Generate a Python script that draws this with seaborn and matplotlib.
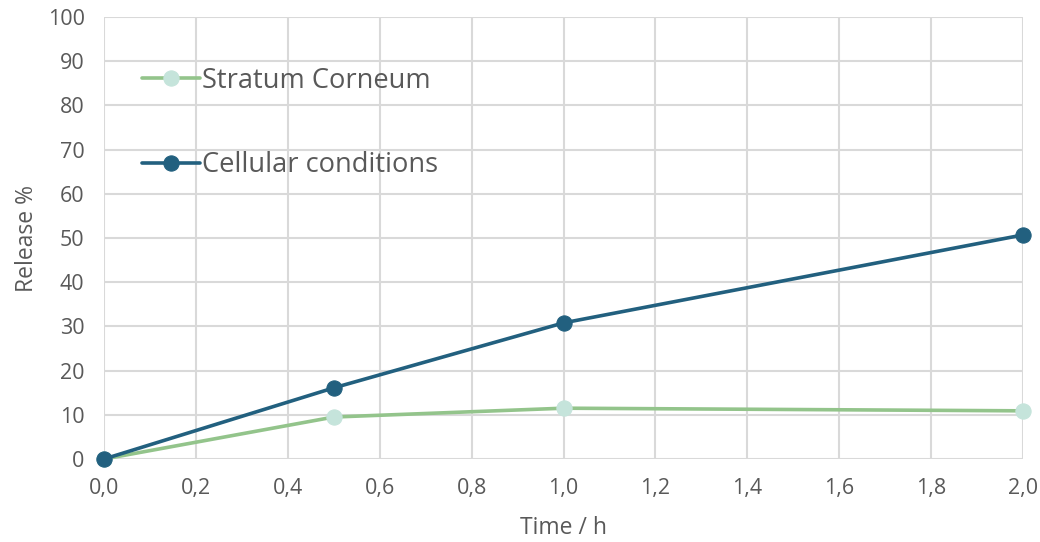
import matplotlib
matplotlib.use("Agg")
import matplotlib.pyplot as plt
import seaborn as sns
import pandas as pd

time_h = [0.0, 0.5, 1.0, 2.0]
stratum_corneum = [0.0, 9.5, 11.5, 10.9]
cellular_conditions = [0.0, 16.1, 30.8, 50.7]
series_names = ["Stratum Corneum", "Cellular conditions"]
x_ticks = [0.0, 0.2, 0.4, 0.6, 0.8, 1.0, 1.2, 1.4, 1.6, 1.8, 2.0]
x_tick_labels = ["0,0", "0,2", "0,4", "0,6", "0,8", "1,0", "1,2", "1,4", "1,6", "1,8", "2,0"]
y_ticks = [0, 10, 20, 30, 40, 50, 60, 70, 80, 90, 100]

sns.set_theme(style="white")
plt.rcParams["font.family"] = ["Open Sans", "DejaVu Sans"]

df = pd.DataFrame({
    "Time": time_h * 2,
    "Release": stratum_corneum + cellular_conditions,
    "Series": [series_names[0]] * len(time_h) + [series_names[1]] * len(time_h),
})

fig = plt.figure(figsize=(10.4, 5.42), dpi=100)
ax = fig.add_axes([0.1, 0.1531, 0.8837, 0.8155])

line_colors = {series_names[0]: "#93C48B", series_names[1]: "#22607F"}
marker_colors = {series_names[0]: "#C5E4DB", series_names[1]: "#22607F"}

for name in series_names:
    sub = df[df["Series"] == name]
    sns.lineplot(data=sub, x="Time", y="Release", ax=ax, color=line_colors[name],
                 linewidth=2.6, marker="o", markersize=11,
                 markerfacecolor=marker_colors[name], markeredgecolor=marker_colors[name],
                 label=name, zorder=3, clip_on=False)

ax.set_xlim(0, 2.0)
ax.set_ylim(0, 100)
ax.set_xticks(x_ticks)
ax.set_xticklabels(x_tick_labels)
ax.set_yticks(y_ticks)
ax.grid(True, color="#D9D9D9", linewidth=1.5)
ax.set_axisbelow(True)
for s in ax.spines.values():
    s.set_visible(False)
ax.tick_params(axis="x", labelsize=15.5, colors="#595959", length=0, pad=14)
ax.tick_params(axis="y", labelsize=15.5, colors="#595959", length=0, pad=14)
ax.set_xlabel("Time / h", fontsize=16.5, color="#595959", labelpad=12)
ax.set_ylabel("Release %", fontsize=16.5, color="#595959", labelpad=6)

leg = ax.legend(loc="upper left", bbox_to_anchor=(0.03, 0.912), frameon=False,
                fontsize=19.6, labelcolor="#595959", handlelength=2.1,
                handletextpad=0.08, labelspacing=2.08, borderaxespad=0)

fig.savefig("out.png", dpi=100)
